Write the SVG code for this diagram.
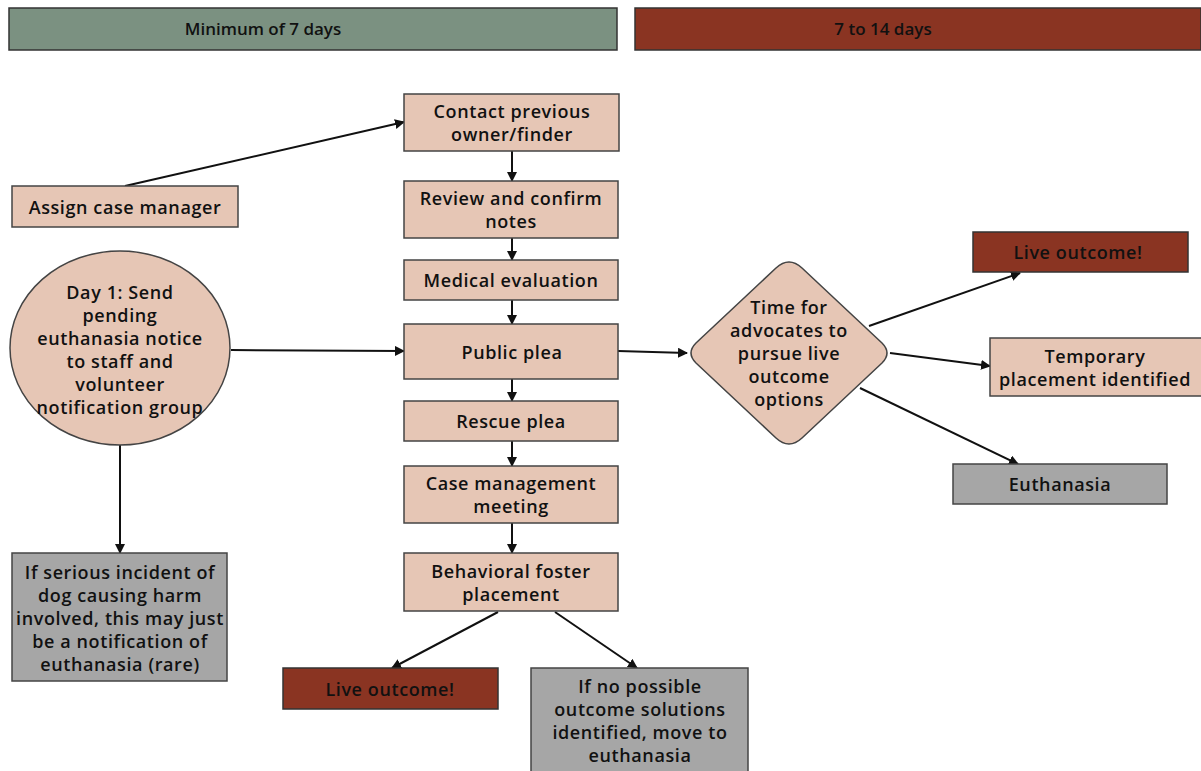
<svg xmlns="http://www.w3.org/2000/svg" width="1201" height="771" viewBox="0 0 1201 771">
<defs>
<style>
.t{font-family:"Open Sans","Liberation Sans",sans-serif;font-size:18px;font-weight:600;letter-spacing:0.6px;fill:#111;text-anchor:middle}
.h{font-family:"Open Sans","Liberation Sans",sans-serif;font-size:17px;font-weight:600;fill:#111;text-anchor:middle}
.pk{fill:#e6c6b5;stroke:#444;stroke-width:1.5}
.rd{fill:#8a3422;stroke:#333;stroke-width:1.5}
.gy{fill:#a6a6a6;stroke:#444;stroke-width:1.5}
.gn{fill:#7b9181;stroke:#333;stroke-width:1.5}
.c{stroke:#111;stroke-width:2;fill:none;marker-end:url(#a)}
</style>
<marker id="a" viewBox="0 0 10 10" refX="9" refY="5" markerWidth="5" markerHeight="5" orient="auto" markerUnits="strokeWidth">
<path d="M0,0 L10,5 L0,10 z" fill="#111"/>
</marker>
</defs>
<rect width="1201" height="771" fill="#fff"/>
<g id="header-left"><rect class="gn" x="9" y="8" width="608" height="42"/><text class="h" x="263" y="35">Minimum of 7 days</text></g>
<g id="header-right"><rect class="rd" x="635" y="8" width="566" height="42"/><text class="h" x="883" y="35">7 to 14 days</text></g>

<g id="connectors">
<line class="c" x1="125" y1="186" x2="404" y2="122"/>
<line class="c" x1="512" y1="151" x2="512" y2="181"/>
<line class="c" x1="512" y1="238" x2="512" y2="260"/>
<line class="c" x1="512" y1="300" x2="512" y2="324"/>
<line class="c" x1="512" y1="379" x2="512" y2="401"/>
<line class="c" x1="512" y1="441" x2="512" y2="466"/>
<line class="c" x1="512" y1="523" x2="512" y2="553"/>
<line class="c" x1="231" y1="350" x2="404" y2="351"/>
<line class="c" x1="120" y1="445" x2="120" y2="553"/>
<line class="c" x1="618" y1="351" x2="687" y2="353"/>
<line class="c" x1="869" y1="326" x2="1020" y2="273"/>
<line class="c" x1="890" y1="353" x2="990" y2="366"/>
<line class="c" x1="860" y1="388" x2="1018" y2="464"/>
<line class="c" x1="498" y1="612" x2="392" y2="668"/>
<line class="c" x1="555" y1="612" x2="637" y2="668"/>
</g>

<g id="contact"><rect class="pk" x="404" y="94" width="215" height="57"/><text class="t" x="512" y="118">Contact previous</text><text class="t" x="512" y="141">owner/finder</text></g>
<g id="review"><rect class="pk" x="404" y="181" width="214" height="57"/><text class="t" x="511" y="205">Review and confirm</text><text class="t" x="511" y="228">notes</text></g>
<g id="medical"><rect class="pk" x="404" y="260" width="214" height="40"/><text class="t" x="511" y="287">Medical evaluation</text></g>
<g id="public"><rect class="pk" x="404" y="324" width="214" height="55"/><text class="t" x="512" y="359">Public plea</text></g>
<g id="rescue"><rect class="pk" x="404" y="401" width="214" height="40"/><text class="t" x="511" y="428">Rescue plea</text></g>
<g id="case"><rect class="pk" x="404" y="466" width="214" height="57"/><text class="t" x="511" y="490">Case management</text><text class="t" x="511" y="513">meeting</text></g>
<g id="behavioral"><rect class="pk" x="404" y="553" width="214" height="58"/><text class="t" x="511" y="578">Behavioral foster</text><text class="t" x="511" y="601">placement</text></g>

<g id="assign"><rect class="pk" x="12" y="186" width="226" height="41"/><text class="t" x="125" y="214">Assign case manager</text></g>
<g id="day1"><ellipse class="pk" cx="120" cy="348" rx="110" ry="97"/>
<text class="t" x="120" y="299">Day 1: Send</text><text class="t" x="120" y="322">pending</text><text class="t" x="120" y="345">euthanasia notice</text><text class="t" x="120" y="368">to staff and</text><text class="t" x="120" y="391">volunteer</text><text class="t" x="120" y="414">notification group</text></g>
<g id="serious"><rect class="gy" x="12" y="553" width="215" height="128"/>
<text class="t" x="120" y="579">If serious incident of</text><text class="t" x="120" y="602">dog causing harm</text><text class="t" x="120" y="625">involved, this may just</text><text class="t" x="120" y="648">be a notification of</text><text class="t" x="120" y="671">euthanasia (rare)</text></g>
<g id="live-bottom"><rect class="rd" x="283" y="668" width="215" height="41"/><text class="t" x="390" y="696">Live outcome!</text></g>
<g id="no-solution"><rect class="gy" x="531" y="668" width="217" height="110"/>
<text class="t" x="640" y="693">If no possible</text><text class="t" x="640" y="716">outcome solutions</text><text class="t" x="640" y="739">identified, move to</text><text class="t" x="640" y="762">euthanasia</text></g>

<g id="decision"><path class="pk" d="M776,268 Q789,256 802,268 L882,343 Q892,353 882,363 L802,438 Q789,450 776,438 L696,363 Q686,353 696,343 Z"/>
<text class="t" x="789" y="314">Time for</text><text class="t" x="789" y="337">advocates to</text><text class="t" x="789" y="360">pursue live</text><text class="t" x="789" y="383">outcome</text><text class="t" x="789" y="406">options</text></g>
<g id="live-right"><rect class="rd" x="973" y="232" width="215" height="40"/><text class="t" x="1078" y="259">Live outcome!</text></g>
<g id="temporary"><rect class="pk" x="990" y="338" width="215" height="58"/><text class="t" x="1095" y="363">Temporary</text><text class="t" x="1095" y="386">placement identified</text></g>
<g id="euthanasia"><rect class="gy" x="953" y="464" width="214" height="40"/><text class="t" x="1060" y="491">Euthanasia</text></g>
</svg>
